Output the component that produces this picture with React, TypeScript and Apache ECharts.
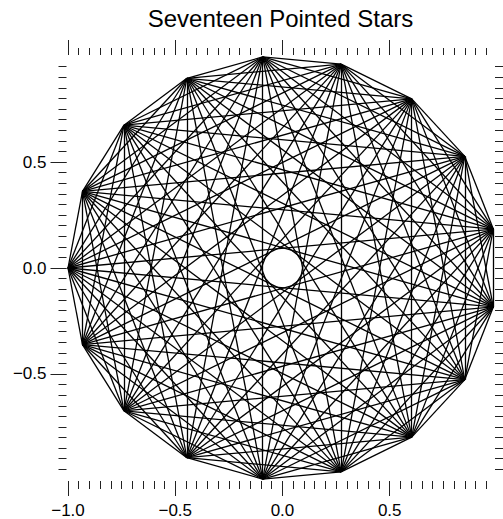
import React, { useEffect, useRef } from "react";
import * as echarts from "echarts";

// 17 vertices of the star (unit circle, first vertex at (-1, 0))
const pointX = [
  -1.0, -0.93247, -0.73901, -0.44574, -0.09227, 0.27366, 0.60263, 0.85022, 0.98297,
  0.98297, 0.85022, 0.60263, 0.27366, -0.09227, -0.44574, -0.73901, -0.93247,
];
const pointY = [
  0.0, 0.36124, 0.6737, 0.89516, 0.99573, 0.96183, 0.79802, 0.52643, 0.18375,
  -0.18375, -0.52643, -0.79802, -0.96183, -0.99573, -0.89516, -0.6737, -0.36124,
];

const xMajorTicks = [-1.0, -0.5, 0.0, 0.5];
const xMinorTicks = [
  -1.0, -0.95, -0.9, -0.85, -0.8, -0.75, -0.7, -0.65, -0.6, -0.55, -0.5, -0.45, -0.4,
  -0.35, -0.3, -0.25, -0.2, -0.15, -0.1, -0.05, 0.0, 0.05, 0.1, 0.15, 0.2, 0.25, 0.3,
  0.35, 0.4, 0.45, 0.5, 0.55, 0.6, 0.65, 0.7, 0.75, 0.8, 0.85, 0.9, 0.95,
];
const yMajorTicks = [-0.5, 0.0, 0.5];
const yMinorTicks = [
  -0.95, -0.9, -0.85, -0.8, -0.75, -0.7, -0.65, -0.6, -0.55, -0.5, -0.45, -0.4, -0.35,
  -0.3, -0.25, -0.2, -0.15, -0.1, -0.05, 0.0, 0.05, 0.1, 0.15, 0.2, 0.25, 0.3, 0.35,
  0.4, 0.45, 0.5, 0.55, 0.6, 0.65, 0.7, 0.75, 0.8, 0.85, 0.9, 0.95,
];

const X_MIN = -1.007;
const X_MAX = 0.991;
const Y_MIN = -1.005;
const Y_MAX = 1.005;

const FONT = "'Liberation Sans', Arial, Helvetica, sans-serif";

const fmt = (v: number) => {
  const s = Math.abs(v).toFixed(1);
  return v < -1e-9 ? "\u2212" + s : s;
};

function makeX(position: "top" | "bottom", ticks: number[], len: number, labels: boolean) {
  return {
    type: "value",
    position,
    min: X_MIN,
    max: X_MAX,
    axisLine: { show: false, onZero: false },
    splitLine: { show: false },
    axisTick: {
      show: true,
      inside: false,
      length: len,
      customValues: ticks,
      lineStyle: { color: "#222", width: 1 },
    },
    axisLabel: labels
      ? {
          show: true,
          customValues: xMajorTicks,
          formatter: fmt,
          color: "#000",
          fontSize: 17,
          fontFamily: FONT,
          margin: 21,
        }
      : { show: false },
  };
}

function makeY(position: "left" | "right", ticks: number[], len: number, labels: boolean) {
  return {
    type: "value",
    position,
    min: Y_MIN,
    max: Y_MAX,
    axisLine: { show: false, onZero: false },
    splitLine: { show: false },
    axisTick: {
      show: true,
      inside: false,
      length: len,
      customValues: ticks,
      lineStyle: { color: "#222", width: 1 },
    },
    axisLabel: labels
      ? {
          show: true,
          customValues: yMajorTicks,
          formatter: fmt,
          color: "#000",
          fontSize: 17,
          fontFamily: FONT,
          margin: 20,
        }
      : { show: false },
  };
}

export default function App() {
  const ref = useRef<HTMLDivElement>(null);

  useEffect(() => {
    if (!ref.current) return;
    const chart = echarts.init(ref.current, undefined, { renderer: "svg" });

    const segments: { coords: number[][] }[] = [];
    for (let i = 0; i < pointX.length; i++) {
      for (let j = i + 1; j < pointX.length; j++) {
        segments.push({
          coords: [
            [pointX[i], pointY[i]],
            [pointX[j], pointY[j]],
          ],
        });
      }
    }

    chart.setOption({
      animation: false,
      backgroundColor: "#fff",
      title: {
        text: "Seventeen Pointed Stars",
        left: 280.5,
        textAlign: "center",
        top: 6,
        padding: 0,
        textStyle: {
          color: "#000",
          fontSize: 24,
          fontWeight: "normal",
          fontFamily: FONT,
        },
      },
      grid: {
        left: 66.5,
        right: 8,
        top: 55,
        bottom: 34,
        containLabel: false,
      },
      xAxis: [
        makeX("bottom", xMajorTicks, 15, true),
        makeX("bottom", xMinorTicks, 8, false),
        makeX("top", xMajorTicks, 15, false),
        makeX("top", xMinorTicks, 7, false),
      ],
      yAxis: [
        makeY("left", yMajorTicks, 16, true),
        makeY("left", yMinorTicks, 8, false),
        makeY("right", yMajorTicks, 15, false),
        makeY("right", yMinorTicks, 8, false),
      ],
      series: [
        {
          type: "lines",
          coordinateSystem: "cartesian2d",
          xAxisIndex: 0,
          yAxisIndex: 0,
          polyline: false,
          silent: true,
          lineStyle: { color: "#000", width: 1.3, opacity: 1 },
          data: segments,
        },
      ],
    });

    return () => chart.dispose();
  }, []);

  return (
    <div
      ref={ref}
      style={{ position: "absolute", left: 0, top: 0, width: 503, height: 519 }}
    />
  );
}
